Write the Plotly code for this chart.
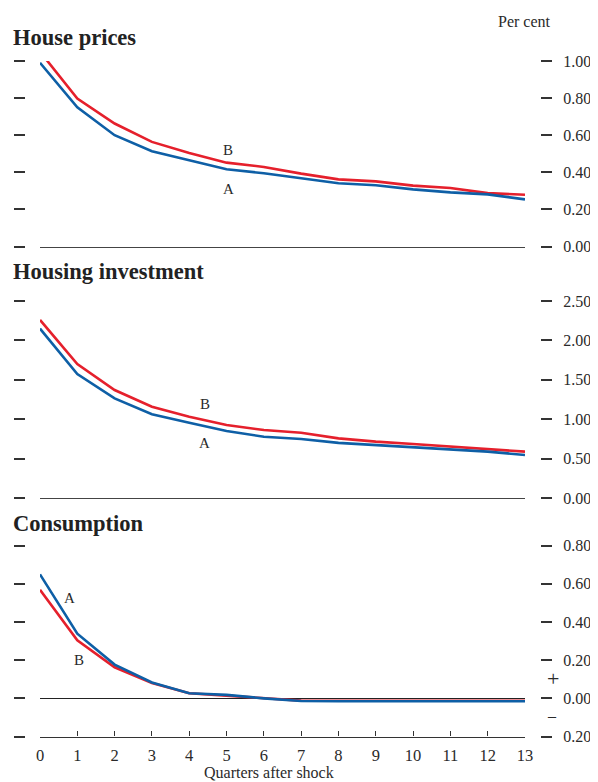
import plotly.graph_objects as go

quarters = list(range(14))

house_A = [0.99, 0.75, 0.60, 0.514, 0.465, 0.416, 0.395, 0.368, 0.341, 0.330, 0.308, 0.292, 0.281, 0.254]
house_B = [1.05, 0.798, 0.663, 0.564, 0.504, 0.452, 0.429, 0.393, 0.362, 0.351, 0.328, 0.315, 0.288, 0.279]

inv_A = [2.15, 1.574, 1.265, 1.062, 0.956, 0.85, 0.778, 0.749, 0.70, 0.673, 0.643, 0.618, 0.588, 0.546]
inv_B = [2.26, 1.70, 1.37, 1.159, 1.03, 0.926, 0.863, 0.829, 0.757, 0.715, 0.685, 0.651, 0.622, 0.588]

cons_A = [0.65, 0.339, 0.177, 0.083, 0.027, 0.018, 0.0, -0.014, -0.015, -0.015, -0.015, -0.015, -0.015, -0.015]
cons_B = [0.569, 0.304, 0.163, 0.080, 0.027, 0.015, 0.0, -0.012, -0.013, -0.013, -0.013, -0.013, -0.013, -0.013]

titles = ["House prices", "Housing investment", "Consumption"]
ranges = [[0, 1.0], [0, 2.5], [-0.2, 0.8]]
tickvals = [[0, 0.2, 0.4, 0.6, 0.8, 1.0],
            [0, 0.5, 1.0, 1.5, 2.0, 2.5],
            [-0.2, 0, 0.2, 0.4, 0.6, 0.8]]
ticktexts = [["0.00", "0.20", "0.40", "0.60", "0.80", "1.00"],
             ["0.00", "0.50", "1.00", "1.50", "2.00", "2.50"],
             ["0.20", "0.00", "0.20", "0.40", "0.60", "0.80"]]

# page body has an 8px margin; figure is sized to fit inside the window
OFF = 8
W, H = 598 - 2 * OFF, 782 - OFF
BLUE = "#0e5fa6"
RED = "#e5202c"
FONT = "Liberation Serif"
TXT = "#2a2a2a"


def px_x(p):
    return (p - OFF) / W


def px_y(p):
    return 1 - (p - OFF) / H


# pixel geometry of panels in the window (top, bottom)
panels_px = [(61, 246.5), (301, 498), (545.7, 736.5)]
x_dom = [px_x(40), px_x(525)]

fig = go.Figure()
series = [(house_A, house_B), (inv_A, inv_B), (cons_A, cons_B)]

layout = dict(
    width=W, height=H,
    margin=dict(l=0, r=0, t=0, b=0, autoexpand=False),
    paper_bgcolor="white", plot_bgcolor="white",
    showlegend=False,
    font=dict(family=FONT, size=16, color=TXT),
)

for i, (a, b) in enumerate(series):
    n = i + 1
    xa = "x" if n == 1 else f"x{n}"
    ya = "y" if n == 1 else f"y{n}"
    fig.add_trace(go.Scatter(x=quarters, y=b, mode="lines", line=dict(color=RED, width=2.6),
                             xaxis=xa, yaxis=ya, hoverinfo="skip"))
    fig.add_trace(go.Scatter(x=quarters, y=a, mode="lines", line=dict(color=BLUE, width=2.6),
                             xaxis=xa, yaxis=ya, hoverinfo="skip"))
    top, bot = panels_px[i]
    dom = [px_y(bot), px_y(top)]
    xkey = "xaxis" if n == 1 else f"xaxis{n}"
    ykey = "yaxis" if n == 1 else f"yaxis{n}"
    ylkey = f"yaxis{n + 3}"
    last = (n == 3)
    layout[xkey] = dict(
        domain=x_dom, anchor=ya, range=[0, 13], automargin=False,
        showgrid=False, zeroline=False,
        showline=True, linecolor="#333333" if last else "#444444", linewidth=1.3 if last else 1.2,
        ticks="inside" if last else "", ticklen=5, tickwidth=1.3, tickcolor="#333333",
        tickmode="array", tickvals=quarters,
        showticklabels=last, ticklabelstandoff=4,
        tickfont=dict(family=FONT, size=16.5, color=TXT),
    )
    layout[ykey] = dict(
        domain=dom, range=ranges[i], anchor="free", side="right", position=px_x(540),
        automargin=False, showgrid=False,
        zeroline=last, zerolinecolor="#222222", zerolinewidth=1.2,
        showline=False,
        ticks="outside", ticklen=11, tickwidth=1.5, tickcolor="#333333",
        tickmode="array", tickvals=tickvals[i], ticktext=ticktexts[i],
        ticklabelstandoff=8,
        tickfont=dict(family=FONT, size=16, color=TXT),
    )
    layout[ylkey] = dict(
        domain=dom, range=ranges[i], anchor="free", side="left", position=px_x(25),
        automargin=False,
        overlaying=ya, showgrid=False, zeroline=False, showline=False,
        ticks="outside", ticklen=11, tickwidth=1.5, tickcolor="#333333",
        tickmode="array", tickvals=tickvals[i], showticklabels=False,
    )

fig.update_layout(**layout)

# dummy traces so the left overlay axes render
for n in (4, 5, 6):
    fig.add_trace(go.Scatter(x=[None], y=[None], xaxis="x" if n == 4 else f"x{n - 3}",
                             yaxis=f"y{n}", hoverinfo="skip"))

ann = []
title_y = [38, 272, 523]
for t, py in zip(titles, title_y):
    ann.append(dict(text=f"<b>{t}</b>", xref="paper", yref="paper", x=px_x(11), y=px_y(py),
                    xanchor="left", yanchor="middle", showarrow=False,
                    font=dict(family=FONT, size=22.5, color="#222222")))
ann.append(dict(text="Per cent", xref="paper", yref="paper", x=px_x(553), y=px_y(22),
                xanchor="right", yanchor="middle", showarrow=False,
                font=dict(family=FONT, size=16, color=TXT)))
ann.append(dict(text="Quarters after shock", xref="paper", yref="paper", x=px_x(269), y=px_y(772),
                xanchor="center", yanchor="middle", showarrow=False,
                font=dict(family=FONT, size=16, color=TXT)))
ann.append(dict(text="+", xref="paper", yref="paper", x=px_x(553), y=px_y(678),
                xanchor="center", yanchor="middle", showarrow=False,
                font=dict(family=FONT, size=22, color=TXT)))
ann.append(dict(text="–", xref="paper", yref="paper", x=px_x(552), y=px_y(715),
                xanchor="center", yanchor="middle", showarrow=False,
                font=dict(family=FONT, size=16, color=TXT)))

labels = [("B", 5.04, 0.52, "x", "y"), ("A", 5.04, 0.31, "x", "y"),
          ("B", 4.42, 1.19, "x2", "y2"), ("A", 4.42, 0.70, "x2", "y2"),
          ("A", 0.8, 0.528, "x3", "y3"), ("B", 1.05, 0.20, "x3", "y3")]
for txt, lx, ly, xr, yr in labels:
    ann.append(dict(text=txt, x=lx, y=ly, xref=xr, yref=yr, showarrow=False,
                    xanchor="center", yanchor="middle",
                    font=dict(family=FONT, size=15, color=TXT)))

fig.update_layout(annotations=ann)
fig.write_html("out.html")
